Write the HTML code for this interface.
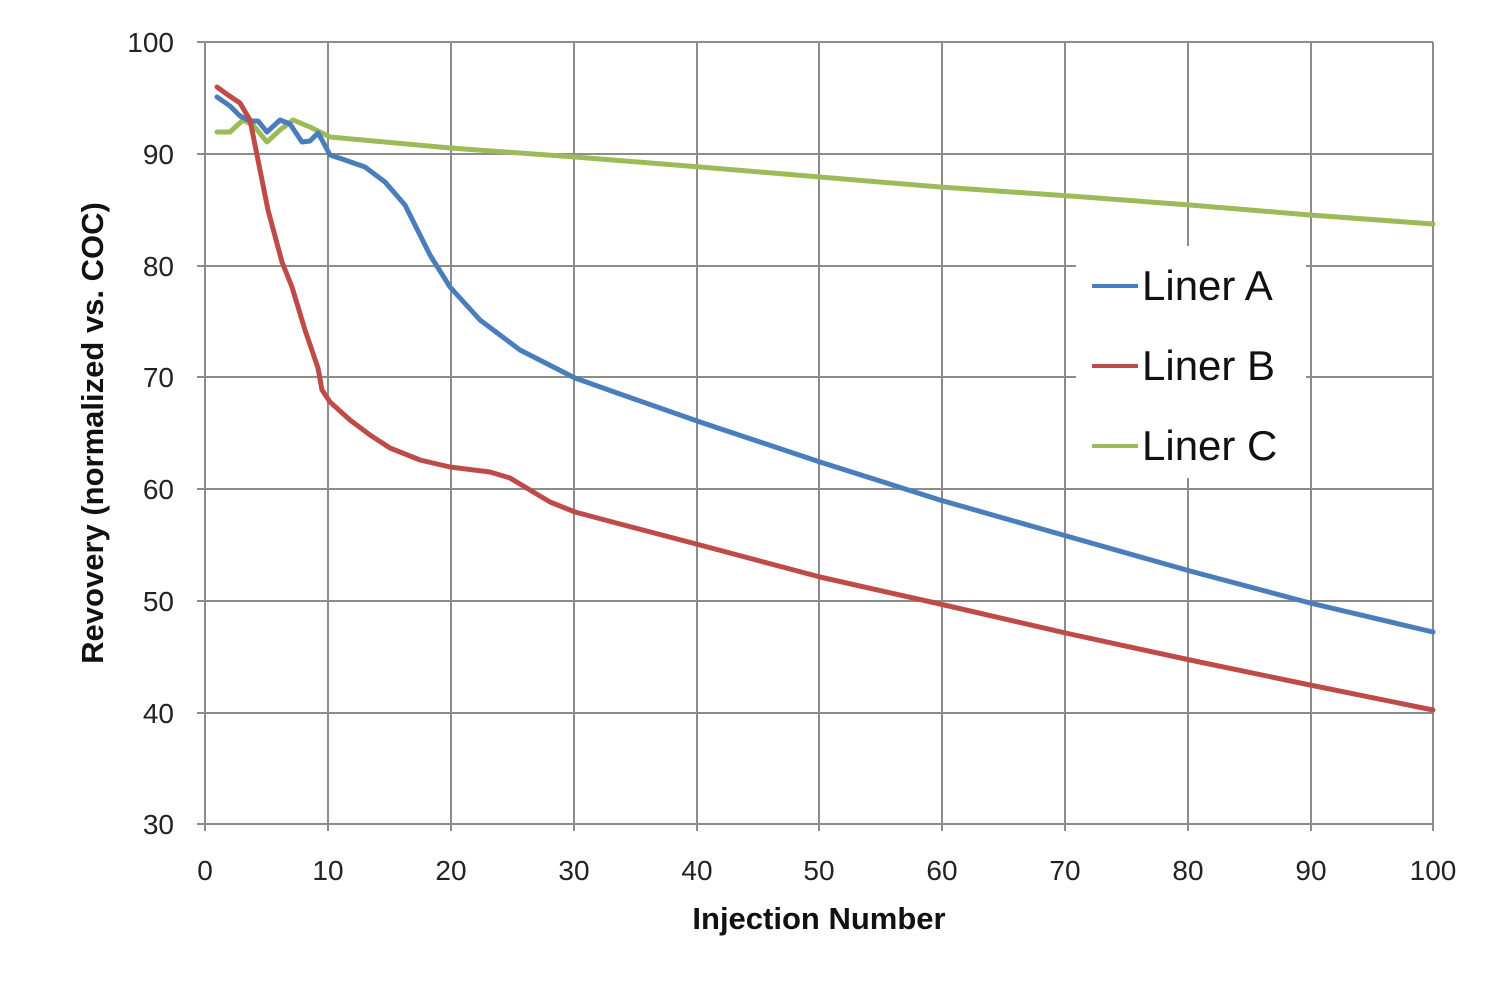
<!DOCTYPE html><html><head><style>body{margin:0;background:#fff}svg{display:block}</style></head><body>
<svg width="1500" height="996" xmlns="http://www.w3.org/2000/svg" font-family="Liberation Sans, sans-serif">
<g stroke="#8c8c8c" stroke-width="2">
<line x1="205" y1="42" x2="1433" y2="42"/><line x1="205" y1="154" x2="1433" y2="154"/><line x1="205" y1="266" x2="1433" y2="266"/><line x1="205" y1="377" x2="1433" y2="377"/><line x1="205" y1="489" x2="1433" y2="489"/><line x1="205" y1="601" x2="1433" y2="601"/><line x1="205" y1="713" x2="1433" y2="713"/><line x1="205" y1="824" x2="1433" y2="824"/>
<line x1="205" y1="42" x2="205" y2="831"/><line x1="328" y1="42" x2="328" y2="831"/><line x1="451" y1="42" x2="451" y2="831"/><line x1="574" y1="42" x2="574" y2="831"/><line x1="697" y1="42" x2="697" y2="831"/><line x1="819" y1="42" x2="819" y2="831"/><line x1="942" y1="42" x2="942" y2="831"/><line x1="1065" y1="42" x2="1065" y2="831"/><line x1="1188" y1="42" x2="1188" y2="831"/><line x1="1311" y1="42" x2="1311" y2="831"/><line x1="1433" y1="42" x2="1433" y2="831"/>
<line x1="197" y1="42" x2="205" y2="42"/><line x1="197" y1="154" x2="205" y2="154"/><line x1="197" y1="266" x2="205" y2="266"/><line x1="197" y1="377" x2="205" y2="377"/><line x1="197" y1="489" x2="205" y2="489"/><line x1="197" y1="601" x2="205" y2="601"/><line x1="197" y1="713" x2="205" y2="713"/><line x1="197" y1="824" x2="205" y2="824"/>
</g>
<g font-size="28" fill="#222" text-anchor="end">
<text x="174" y="52">100</text><text x="174" y="164">90</text><text x="174" y="276">80</text><text x="174" y="387">70</text><text x="174" y="499">60</text><text x="174" y="611">50</text><text x="174" y="723">40</text><text x="174" y="834">30</text></g>
<g font-size="28" fill="#222" text-anchor="middle">
<text x="205" y="880">0</text><text x="328" y="880">10</text><text x="451" y="880">20</text><text x="574" y="880">30</text><text x="697" y="880">40</text><text x="819" y="880">50</text><text x="942" y="880">60</text><text x="1065" y="880">70</text><text x="1188" y="880">80</text><text x="1311" y="880">90</text><text x="1433" y="880">100</text></g>
<text x="819" y="929" font-size="31" font-weight="bold" text-anchor="middle" fill="#111">Injection Number</text>
<text transform="translate(103,433) rotate(-90)" font-size="31" font-weight="bold" text-anchor="middle" fill="#111">Revovery (normalized vs. COC)</text>
<g fill="none" stroke-width="5" stroke-linejoin="round" stroke-linecap="round">
<polyline stroke="#9bbb59" points="217,132 230,132 243,120 253,125 267,142 280,130 293,120 310,127 330,137 450,148 575,157 700,167 820,177 940,187 1070,196 1190,205 1310,215 1433,224"/>
<polyline stroke="#4a7ebb" points="217,97 230,106 240,116 250,121 258,121 267,132 280,120 290,124 302,142 310,141 318,133 322,140 330,155 345,160 365,167 385,182 405,205 430,255 450,287 480,320 520,350 575,378 620,394 700,422 820,462 940,500 1070,537 1190,571 1310,603 1433,632"/>
<polyline stroke="#be4b48" points="217,87 228,95 240,103 250,120 258,160 268,210 282,262 292,287 305,330 318,368 322,390 330,402 350,420 370,435 390,448 420,460 450,467 490,472 510,478 530,490 550,502 575,512 620,524 700,545 820,577 940,604 1070,634 1190,660 1310,685 1433,710"/>
</g>
<rect x="1076" y="246" width="230" height="232" fill="#fff"/>
<g stroke-width="4"><line x1="1092" y1="286" x2="1138" y2="286" stroke="#4a7ebb"/><line x1="1092" y1="366" x2="1138" y2="366" stroke="#be4b48"/><line x1="1092" y1="446" x2="1138" y2="446" stroke="#9bbb59"/></g>
<g font-size="42" fill="#111"><text x="1142" y="300">Liner A</text><text x="1142" y="380">Liner B</text><text x="1142" y="460">Liner C</text></g>
</svg></body></html>
